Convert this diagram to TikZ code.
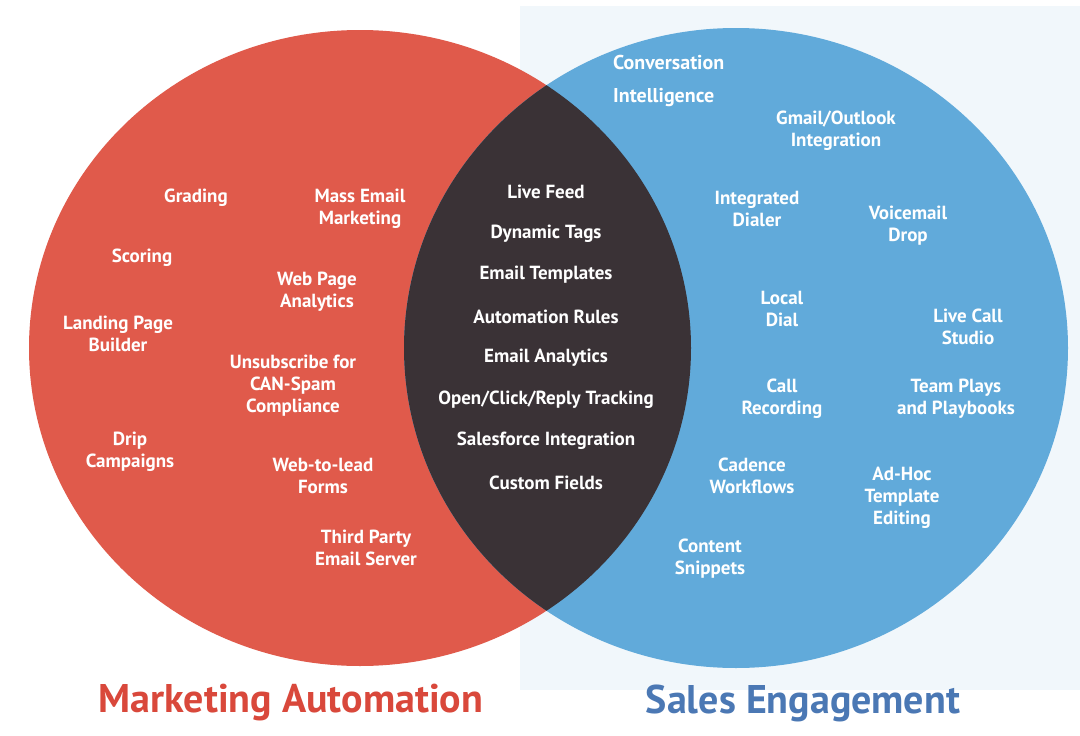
\documentclass[tikz,border=0pt]{standalone}
\usepackage{fontspec}
\setmainfont{PT Sans}
\definecolor{cred}{HTML}{E05A4B}
\definecolor{cblue}{HTML}{61AADA}
\definecolor{cdark}{HTML}{3A3236}
\definecolor{tred}{HTML}{D9483B}
\definecolor{tblue}{HTML}{4B78B4}
\definecolor{pale}{HTML}{F1F7FB}
\begin{document}
\begin{tikzpicture}[x=1pt,y=-1pt,
  lbl/.style={text=white,align=center,font=\fontsize{19}{22}\selectfont\bfseries,inner sep=0pt},
  ttl/.style={font=\fontsize{40}{44}\selectfont\bfseries,inner sep=0pt}]
\useasboundingbox (0,0) rectangle (1080,736);
\fill[white] (0,0) rectangle (1080,736);
\fill[pale] (520,6) rectangle (1080,690);
\fill[cred] (360,348) ellipse [x radius=331, y radius=318];
\fill[cblue] (736,348) ellipse [x radius=332, y radius=320];
\begin{scope}
\clip (360,348) ellipse [x radius=331, y radius=318];
\fill[cdark] (736,348) ellipse [x radius=332, y radius=320];
\end{scope}
% left
\node[lbl] (grading) at (196,198) {Grading};
\node[lbl] (mass) at (360,209) {Mass Email\\Marketing};
\node[lbl] (scoring) at (142,258) {Scoring};
\node[lbl] (webpage) at (317,292) {Web Page\\Analytics};
\node[lbl] (landing) at (118,334) {Landing Page\\Builder};
\node[lbl] (unsub) at (293,386) {Unsubscribe for\\CAN-Spam\\Compliance};
\node[lbl] (drip) at (130,452) {Drip\\Campaigns};
\node[lbl] (w2l) at (323,476) {Web-to-lead\\Forms};
\node[lbl] (third) at (366,548) {Third Party\\Email Server};
% middle
\node[lbl] (m1) at (546,192) {Live Feed};
\node[lbl] (m2) at (546,234) {Dynamic Tags};
\node[lbl] (m3) at (546,275) {Email Templates};
\node[lbl] (m4) at (546,317) {Automation Rules};
\node[lbl] (m5) at (546,358) {Email Analytics};
\node[lbl] (m6) at (546,400) {Open/Click/Reply Tracking};
\node[lbl] (m7) at (546,441) {Salesforce Integration};
\node[lbl] (m8) at (546,483) {Custom Fields};
% right
\node[lbl,align=left,anchor=west,font=\fontsize{20}{33}\selectfont\bfseries] (conv) at (613,81) {Conversation\\Intelligence};
\node[lbl] (gmail) at (836,131) {Gmail/Outlook\\Integration};
\node[lbl] (dialer) at (757,209) {Integrated\\Dialer};
\node[lbl] (vm) at (908,226) {Voicemail\\Drop};
\node[lbl] (local) at (782,309) {Local\\Dial};
\node[lbl] (live) at (968,327) {Live Call\\Studio};
\node[lbl] (rec) at (782,399) {Call\\Recording};
\node[lbl] (team) at (956,399) {Team Plays\\and Playbooks};
\node[lbl] (cad) at (752,476) {Cadence\\Workflows};
\node[lbl] (adhoc) at (902,498) {Ad-Hoc\\Template\\Editing};
\node[lbl] (snip) at (710,559) {Content\\Snippets};
% titles
\node[ttl,text=tred] (tma) at (291,703) {Marketing Automation};
\node[ttl,text=tblue] (tse) at (803,703) {Sales Engagement};
\end{tikzpicture}
\end{document}
